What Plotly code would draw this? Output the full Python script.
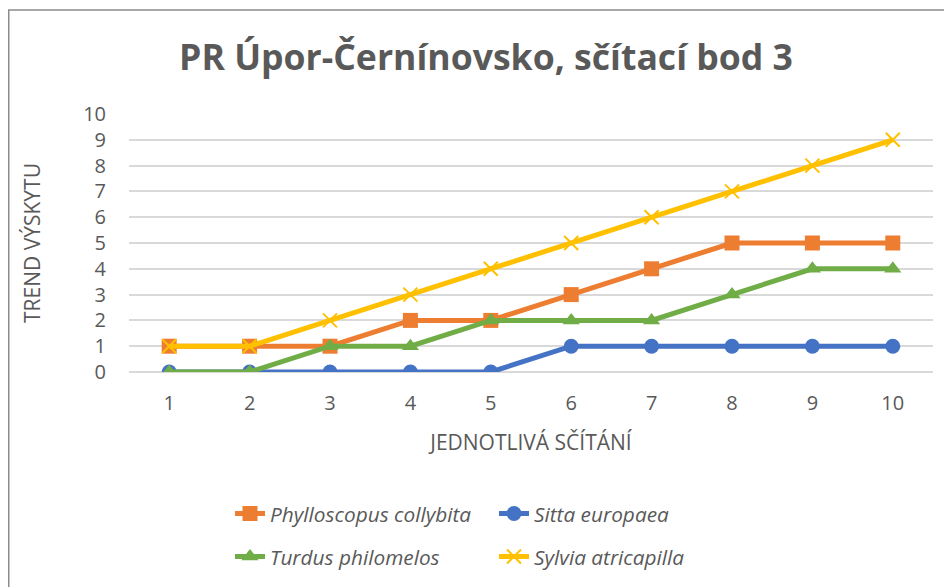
import plotly.graph_objects as go

x_vals = [1, 2, 3, 4, 5, 6, 7, 8, 9, 10]
phylloscopus = [1, 1, 1, 2, 2, 3, 4, 5, 5, 5]
sitta = [0, 0, 0, 0, 0, 1, 1, 1, 1, 1]
turdus = [0, 0, 1, 1, 2, 2, 2, 3, 4, 4]
sylvia = [1, 1, 2, 3, 4, 5, 6, 7, 8, 9]

names = ["Phylloscopus collybita", "Sitta europaea", "Turdus philomelos", "Sylvia atricapilla"]
colors = ["#ED7D31", "#4472C4", "#70AD47", "#FFC000"]
symbols = ["square", "circle", "triangle-up", "x-thin"]
series = [phylloscopus, sitta, turdus, sylvia]
legends = ["legend", "legend", "legend2", "legend2"]

FONT = "Open Sans"
GRAY = "#595959"

# figure pixel geometry (page has an 8px body margin)
L, T, W, H = 121, 106, 804, 258
FW, FH = 952, 587

fig = go.Figure()
for name, col, sym, ys, lg in zip(names, colors, symbols, series, legends):
    if sym == "x-thin":
        marker = dict(symbol=sym, size=14, color=col, line=dict(color=col, width=2))
    else:
        marker = dict(symbol=sym, size=15, color=col)
    fig.add_trace(go.Scatter(
        x=x_vals, y=ys, name=name, mode="lines+markers",
        line=dict(color=col, width=5), marker=marker, legend=lg,
    ))

leg_font = dict(size=20.8, color=GRAY, family=FONT, style="italic")
fig.update_layout(
    width=FW, height=FH,
    margin=dict(l=L, r=FW - L - W, t=T, b=FH - T - H),
    paper_bgcolor="white", plot_bgcolor="white",
    font=dict(family=FONT, color=GRAY, size=20),
    title=dict(text="<b>PR Úpor-Černínovsko, sčítací bod 3</b>", xref="paper",
               x=(478 - L) / W, xanchor="center",
               y=1 - 50 / FH, yanchor="middle", font=dict(size=35.6, color=GRAY, family=FONT)),
    xaxis=dict(range=[0.5, 10.5], tickvals=x_vals, showgrid=False, zeroline=False,
               showline=False, ticks="", tickfont=dict(size=20, color=GRAY),
               ticklabelstandoff=17,
               title=dict(text="JEDNOTLIVÁ SČÍTÁNÍ", font=dict(size=21, color=GRAY), standoff=20)),
    yaxis=dict(range=[0, 10], dtick=1, showgrid=True, gridcolor="#D9D9D9", gridwidth=1.5,
               zeroline=True, zerolinecolor="#D9D9D9", zerolinewidth=1.5, ticks="",
               tickfont=dict(size=20, color=GRAY), ticklabelstandoff=22,
               title=dict(text="TREND VÝSKYTU", font=dict(size=21, color=GRAY), standoff=36)),
    legend=dict(orientation="h", x=(222 - L) / W, xanchor="left", y=(T + H - 506) / H,
                yanchor="middle", font=leg_font,
                entrywidth=219, entrywidthmode="pixels", bgcolor="rgba(0,0,0,0)"),
    legend2=dict(orientation="h", x=(222 - L) / W, xanchor="left", y=(T + H - 549) / H,
                 yanchor="middle", font=leg_font,
                 entrywidth=219, entrywidthmode="pixels", bgcolor="rgba(0,0,0,0)"),
    showlegend=True,
    shapes=[dict(type="rect", xref="paper", yref="paper",
                 x0=(0.75 - L) / W, x1=1.2, y0=-1.5, y1=(T + H - 2) / H,
                 line=dict(color="#8C8C8C", width=1.5), fillcolor="rgba(0,0,0,0)", layer="below")],
)

fig.write_html("out.html")
